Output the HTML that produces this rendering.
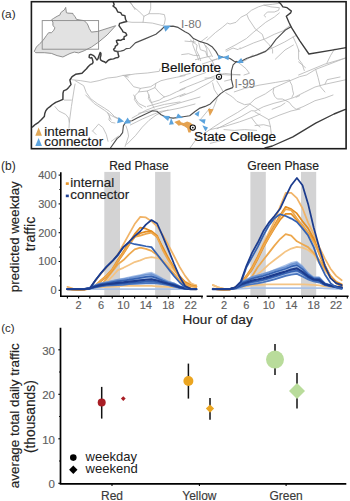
<!DOCTYPE html>
<html><head><meta charset="utf-8"><style>
html,body{margin:0;padding:0;background:#fff;width:350px;height:501px;overflow:hidden}
svg{display:block}
text{font-family:"Liberation Sans", sans-serif}
</style></head><body>
<svg width="350" height="501" viewBox="0 0 350 501">
<text x="1.2" y="17.6" font-size="11.8" fill="#2a2a2a" stroke="none">(a)</text>
<clipPath id="mc"><rect x="31.4" y="1.7" width="314.7" height="147"/></clipPath>
<g clip-path="url(#mc)">
<path d="M130.1,2.6 L133.6,6.9 L138.7,11.1 L143.9,16.3 L143.0,22.3" fill="none" stroke="#B4B4B4" stroke-width="0.80" stroke-linejoin="round" stroke-linecap="round" />
<path d="M150.7,1.7 L150.7,8.6 L149.0,13.7 L143.9,16.3" fill="none" stroke="#B4B4B4" stroke-width="0.80" stroke-linejoin="round" stroke-linecap="round" />
<path d="M149.0,13.7 L159.3,13.7 L164.4,14.6 L165.3,18.9 L164.4,24.0 L162.7,25.7" fill="none" stroke="#B4B4B4" stroke-width="0.80" stroke-linejoin="round" stroke-linecap="round" />
<path d="M121.0,23.2 L125.0,21.4 L131.9,22.3 L143.0,22.3 L152.4,23.1 L162.7,25.7" fill="none" stroke="#B4B4B4" stroke-width="0.80" stroke-linejoin="round" stroke-linecap="round" />
<path d="M128.0,0.0 L131.0,3.0 L135.0,9.6" fill="none" stroke="#B4B4B4" stroke-width="0.80" stroke-linejoin="round" stroke-linecap="round" />
<path d="M190.3,40.0 L197.1,45.1 L196.3,50.3 L198.9,55.4 L200.6,60.6" fill="none" stroke="#B4B4B4" stroke-width="0.80" stroke-linejoin="round" stroke-linecap="round" />
<path d="M181.7,54.6 L188.6,53.7 L193.7,55.4 L198.9,55.4" fill="none" stroke="#B4B4B4" stroke-width="0.80" stroke-linejoin="round" stroke-linecap="round" />
<path d="M204.0,43.4 L206.6,48.6 L207.4,55.4 L211.7,60.6 L216.9,58.9" fill="none" stroke="#B4B4B4" stroke-width="0.80" stroke-linejoin="round" stroke-linecap="round" />
<path d="M206.9,40.3 L215.4,32.6 L222.3,27.4 L227.4,23.1 L230.0,24.0 L236.0,22.3 L241.1,17.1 L246.3,14.6 L251.4,10.3 L258.3,6.9 L264.0,5.1 L272.6,4.3 L278.6,3.4" fill="none" stroke="#B4B4B4" stroke-width="0.80" stroke-linejoin="round" stroke-linecap="round" />
<path d="M207.3,36.9 L203.9,39.4 L200.4,42.0" fill="none" stroke="#B4B4B4" stroke-width="0.80" stroke-linejoin="round" stroke-linecap="round" />
<path d="M190.1,34.3 L193.6,39.4 L192.7,44.6 L195.3,51.4 L198.7,60.0" fill="none" stroke="#B4B4B4" stroke-width="0.80" stroke-linejoin="round" stroke-linecap="round" />
<path d="M185.0,41.1 L195.3,42.0" fill="none" stroke="#B4B4B4" stroke-width="0.80" stroke-linejoin="round" stroke-linecap="round" />
<path d="M198.7,42.9 L200.4,49.7 L205.6,51.4 L207.3,56.6" fill="none" stroke="#B4B4B4" stroke-width="0.80" stroke-linejoin="round" stroke-linecap="round" />
<path d="M205.6,45.4 L209.0,49.7 L212.4,56.6" fill="none" stroke="#B4B4B4" stroke-width="0.80" stroke-linejoin="round" stroke-linecap="round" />
<path d="M226.1,51.4 L233.0,48.0 L238.1,49.7 L240.0,47.7" fill="none" stroke="#B4B4B4" stroke-width="0.80" stroke-linejoin="round" stroke-linecap="round" />
<path d="M264.0,5.1 L270.9,6.9 L279.4,7.7 L278.6,10.3 L274.3,12.0 L267.4,12.0 L264.0,15.4 L265.7,17.0" fill="none" stroke="#B4B4B4" stroke-width="0.80" stroke-linejoin="round" stroke-linecap="round" />
<path d="M246.9,14.6 L248.6,18.9 L252.0,24.0 L255.4,29.1 L262.3,34.3 L264.0,39.4 L269.1,44.6 L272.6,49.7 L272.6,53.1" fill="none" stroke="#B4B4B4" stroke-width="0.80" stroke-linejoin="round" stroke-linecap="round" />
<path d="M225.7,50.0 L236.0,44.6 L246.3,38.6 L253.1,32.6 L258.3,28.3 L265.7,22.3 L274.3,17.1 L279.4,12.9" fill="none" stroke="#B4B4B4" stroke-width="0.80" stroke-linejoin="round" stroke-linecap="round" />
<path d="M240.0,48.9 L253.7,42.9 L265.7,38.6 L274.3,34.3 L282.9,30.9 L289.7,25.7" fill="none" stroke="#B4B4B4" stroke-width="0.80" stroke-linejoin="round" stroke-linecap="round" />
<path d="M248.6,58.3 L262.3,52.3 L274.3,47.1 L284.6,42.0 L294.9,36.0 L296.5,35.5" fill="none" stroke="#B4B4B4" stroke-width="0.80" stroke-linejoin="round" stroke-linecap="round" />
<path d="M293.1,36.9 L296.6,44.6 L299.1,51.4" fill="none" stroke="#B4B4B4" stroke-width="0.80" stroke-linejoin="round" stroke-linecap="round" />
<path d="M202.3,64.0 L217.7,58.9" fill="none" stroke="#B4B4B4" stroke-width="0.80" stroke-linejoin="round" stroke-linecap="round" />
<path d="M195.4,59.7 L211.0,56.0" fill="none" stroke="#B4B4B4" stroke-width="0.80" stroke-linejoin="round" stroke-linecap="round" />
<path d="M298.6,50.0 L298.6,59.1 L302.0,63.7 L304.3,70.6" fill="none" stroke="#B4B4B4" stroke-width="0.80" stroke-linejoin="round" stroke-linecap="round" />
<path d="M275.4,59.1 L285.0,50.0 L293.4,45.0" fill="none" stroke="#B4B4B4" stroke-width="0.80" stroke-linejoin="round" stroke-linecap="round" />
<path d="M298.6,75.0 L324.3,64.3 L346.0,57.9" fill="none" stroke="#B4B4B4" stroke-width="0.80" stroke-linejoin="round" stroke-linecap="round" />
<path d="M326.9,63.0 L330.7,55.3 L334.6,48.9" fill="none" stroke="#B4B4B4" stroke-width="0.80" stroke-linejoin="round" stroke-linecap="round" />
<path d="M239.1,63.0 L246.0,68.7 L249.4,73.3 L244.0,75.0" fill="none" stroke="#B4B4B4" stroke-width="0.80" stroke-linejoin="round" stroke-linecap="round" />
<path d="M252.9,55.0 L246.0,60.0 L239.1,63.0" fill="none" stroke="#B4B4B4" stroke-width="0.80" stroke-linejoin="round" stroke-linecap="round" />
<path d="M180.0,76.0 L190.3,73.4" fill="none" stroke="#B4B4B4" stroke-width="0.80" stroke-linejoin="round" stroke-linecap="round" />
<path d="M180.0,82.9 L193.7,76.9 L205.7,72.6" fill="none" stroke="#B4B4B4" stroke-width="0.80" stroke-linejoin="round" stroke-linecap="round" />
<path d="M180.0,89.7 L197.1,82.9 L214.3,76.0 L224.6,73.4 L240.0,75.1" fill="none" stroke="#B4B4B4" stroke-width="0.80" stroke-linejoin="round" stroke-linecap="round" />
<path d="M180.0,96.6 L193.7,91.4 L209.1,82.9 L214.3,79.4" fill="none" stroke="#B4B4B4" stroke-width="0.80" stroke-linejoin="round" stroke-linecap="round" />
<path d="M212.6,82.9 L214.3,89.7 L217.7,94.9" fill="none" stroke="#B4B4B4" stroke-width="0.80" stroke-linejoin="round" stroke-linecap="round" />
<path d="M216.9,81.1 L221.1,88.0 L222.9,91.4" fill="none" stroke="#B4B4B4" stroke-width="0.80" stroke-linejoin="round" stroke-linecap="round" />
<path d="M224.6,81.1 L231.4,79.4" fill="none" stroke="#B4B4B4" stroke-width="0.80" stroke-linejoin="round" stroke-linecap="round" />
<path d="M125.0,75.6 L135.3,73.9 L147.3,73.0 L159.3,71.3 L160.1,68.7" fill="none" stroke="#B4B4B4" stroke-width="0.80" stroke-linejoin="round" stroke-linecap="round" />
<path d="M125.0,76.4 L130.1,82.4 L133.6,86.7 L140.4,88.4 L150.7,86.7 L155.9,83.3 L161.0,80.7 L167.9,79.0 L176.4,77.3 L185.0,75.6" fill="none" stroke="#B4B4B4" stroke-width="0.80" stroke-linejoin="round" stroke-linecap="round" />
<path d="M140.4,88.4 L138.7,91.9 L135.3,95.3 L134.4,99.6 L138.7,105.6 L142.1,108.1" fill="none" stroke="#B4B4B4" stroke-width="0.80" stroke-linejoin="round" stroke-linecap="round" />
<path d="M138.7,91.9 L147.3,91.0 L149.9,98.7 L152.4,104.7 L154.1,108.1" fill="none" stroke="#B4B4B4" stroke-width="0.80" stroke-linejoin="round" stroke-linecap="round" />
<path d="M147.3,91.0 L155.0,87.6 L155.9,83.3" fill="none" stroke="#B4B4B4" stroke-width="0.80" stroke-linejoin="round" stroke-linecap="round" />
<path d="M155.0,87.6 L159.3,92.7 L164.4,97.0 L169.6,95.3 L176.4,91.9 L185.0,88.4" fill="none" stroke="#B4B4B4" stroke-width="0.80" stroke-linejoin="round" stroke-linecap="round" />
<path d="M147.3,106.4 L159.3,103.0 L167.9,100.4 L176.4,97.0 L185.0,93.6" fill="none" stroke="#B4B4B4" stroke-width="0.80" stroke-linejoin="round" stroke-linecap="round" />
<path d="M138.7,113.3 L154.1,109.9 L167.9,106.4 L185.0,101.3 L200.0,97.0" fill="none" stroke="#B4B4B4" stroke-width="0.80" stroke-linejoin="round" stroke-linecap="round" />
<path d="M133.7,95.0 L136.3,100.1 L138.9,103.6 L145.7,107.0" fill="none" stroke="#B4B4B4" stroke-width="0.80" stroke-linejoin="round" stroke-linecap="round" />
<path d="M149.1,95.0 L148.3,98.4 L150.9,102.7 L159.4,100.1 L164.6,96.7" fill="none" stroke="#B4B4B4" stroke-width="0.80" stroke-linejoin="round" stroke-linecap="round" />
<path d="M132.0,118.1 L145.7,110.4 L154.3,107.0 L164.6,104.4 L180.0,101.9" fill="none" stroke="#B4B4B4" stroke-width="0.80" stroke-linejoin="round" stroke-linecap="round" />
<path d="M130.3,125.0 L142.3,119.0 L154.3,113.9 L161.1,111.3 L168.0,110.4 L180.0,108.0 L195.0,104.0" fill="none" stroke="#B4B4B4" stroke-width="0.80" stroke-linejoin="round" stroke-linecap="round" />
<path d="M126.9,144.3 L135.4,135.7 L142.3,127.1 L149.1,120.3 L156.0,115.1 L162.9,111.7 L168.0,110.0" fill="none" stroke="#B4B4B4" stroke-width="0.80" stroke-linejoin="round" stroke-linecap="round" />
<path d="M126.0,125.9 L127.7,131.0 L128.6,136.1 L125.1,146.4" fill="none" stroke="#B4B4B4" stroke-width="0.80" stroke-linejoin="round" stroke-linecap="round" />
<path d="M200.0,135.0 L195.0,141.0 L190.0,148.0" fill="none" stroke="#B4B4B4" stroke-width="0.80" stroke-linejoin="round" stroke-linecap="round" />
<path d="M71.7,79.7 L80.3,80.6 L90.6,82.3 L99.1,80.6 L107.7,78.0 L116.3,77.1 L123.1,75.4 L130.0,74.6" fill="none" stroke="#B4B4B4" stroke-width="0.80" stroke-linejoin="round" stroke-linecap="round" />
<path d="M123.1,75.4 L128.3,77.1" fill="none" stroke="#B4B4B4" stroke-width="0.80" stroke-linejoin="round" stroke-linecap="round" />
<path d="M75.1,80.6 L83.7,85.7 L86.3,92.6 L90.6,98.6 L97.4,103.7 L104.3,108.0 L109.4,111.4 L114.6,116.6 L119.7,119.1" fill="none" stroke="#B4B4B4" stroke-width="0.80" stroke-linejoin="round" stroke-linecap="round" />
<path d="M75.1,84.0 L74.3,88.0 L71.4,106.6 L69.3,122.3 L69.0,128.0" fill="none" stroke="#B4B4B4" stroke-width="0.80" stroke-linejoin="round" stroke-linecap="round" />
<path d="M55.0,106.6 L58.6,110.9 L65.7,114.4 L68.6,118.0 L69.3,122.3" fill="none" stroke="#B4B4B4" stroke-width="0.80" stroke-linejoin="round" stroke-linecap="round" />
<path d="M64.3,100.1 L71.4,100.1" fill="none" stroke="#B4B4B4" stroke-width="0.80" stroke-linejoin="round" stroke-linecap="round" />
<path d="M85.7,95.0 L94.3,103.6 L104.6,110.4 L111.4,115.6 L118.3,119.0" fill="none" stroke="#B4B4B4" stroke-width="0.80" stroke-linejoin="round" stroke-linecap="round" />
<path d="M92.6,131.0 L98.6,124.1 L102.9,127.6 L106.3,134.4 L108.0,141.3" fill="none" stroke="#B4B4B4" stroke-width="0.80" stroke-linejoin="round" stroke-linecap="round" />
<path d="M92.6,131.0 L96.0,134.4" fill="none" stroke="#B4B4B4" stroke-width="0.80" stroke-linejoin="round" stroke-linecap="round" />
<path d="M109.7,115.6 L108.9,119.9 L111.4,122.4 L115.0,123.0" fill="none" stroke="#B4B4B4" stroke-width="0.80" stroke-linejoin="round" stroke-linecap="round" />
<path d="M111.4,141.3 L118.3,136.1" fill="none" stroke="#B4B4B4" stroke-width="0.80" stroke-linejoin="round" stroke-linecap="round" />
<path d="M107.7,113.1 L111.1,120.0" fill="none" stroke="#B4B4B4" stroke-width="0.80" stroke-linejoin="round" stroke-linecap="round" />
<path d="M217.1,98.7 L213.7,107.3 L210.3,114.1" fill="none" stroke="#B4B4B4" stroke-width="0.80" stroke-linejoin="round" stroke-linecap="round" />
<path d="M225.7,92.7 L232.6,97.0 L236.9,101.3 L244.6,104.7 L249.7,103.9 L254.9,107.3 L260.0,110.7" fill="none" stroke="#B4B4B4" stroke-width="0.80" stroke-linejoin="round" stroke-linecap="round" />
<path d="M205.0,133.0 L213.7,127.0 L225.7,119.3 L237.7,112.4 L248.0,105.6 L255.0,99.0 L265.3,93.9 L273.9,87.9 L289.3,81.0 L299.6,76.7 L306.4,75.0 L315.7,69.4 L345.4,58.0" fill="none" stroke="#B4B4B4" stroke-width="0.80" stroke-linejoin="round" stroke-linecap="round" />
<path d="M217.1,128.7 L229.1,122.7 L241.1,116.7 L251.4,110.7 L255.0,111.0 L263.6,106.7 L273.9,103.3 L284.1,100.7 L294.4,97.3 L304.7,92.1 L315.0,87.0 L324.9,84.3 L346.0,79.7" fill="none" stroke="#B4B4B4" stroke-width="0.80" stroke-linejoin="round" stroke-linecap="round" />
<path d="M210.3,129.6 L225.7,126.1 L239.4,121.9 L251.4,117.6 L260.0,114.1" fill="none" stroke="#B4B4B4" stroke-width="0.80" stroke-linejoin="round" stroke-linecap="round" />
<path d="M224.0,129.6 L234.3,130.4 L244.6,129.6 L256.6,130.4" fill="none" stroke="#B4B4B4" stroke-width="0.80" stroke-linejoin="round" stroke-linecap="round" />
<path d="M251.4,117.6 L256.6,124.4 L260.0,127.0" fill="none" stroke="#B4B4B4" stroke-width="0.80" stroke-linejoin="round" stroke-linecap="round" />
<path d="M234.3,91.9 L244.6,88.4 L260.0,85.0 L275.7,82.4 L289.3,80.1" fill="none" stroke="#B4B4B4" stroke-width="0.80" stroke-linejoin="round" stroke-linecap="round" />
<path d="M210.3,143.3 L220.0,141.0" fill="none" stroke="#B4B4B4" stroke-width="0.80" stroke-linejoin="round" stroke-linecap="round" />
<path d="M273.9,87.9 L273.0,92.1 L274.7,96.4 L277.3,99.0 L282.4,99.0 L285.9,100.7 L289.3,102.4 L291.9,105.9 L296.1,109.3 L303.0,106.7 L309.9,103.3 L315.0,100.7 L324.9,98.0 L333.0,95.0" fill="none" stroke="#B4B4B4" stroke-width="0.80" stroke-linejoin="round" stroke-linecap="round" />
<path d="M289.3,80.1 L291.9,85.3 L292.7,90.4 L293.6,93.9 L291.9,97.3" fill="none" stroke="#B4B4B4" stroke-width="0.80" stroke-linejoin="round" stroke-linecap="round" />
<path d="M296.1,97.3 L299.6,95.6" fill="none" stroke="#B4B4B4" stroke-width="0.80" stroke-linejoin="round" stroke-linecap="round" />
<path d="M272.1,109.3 L280.7,105.9 L285.0,103.0" fill="none" stroke="#B4B4B4" stroke-width="0.80" stroke-linejoin="round" stroke-linecap="round" />
<path d="M255.0,111.9 L268.7,119.6 L270.4,126.4 L271.3,134.1" fill="none" stroke="#B4B4B4" stroke-width="0.80" stroke-linejoin="round" stroke-linecap="round" />
<path d="M268.7,119.6 L279.0,115.3 L291.0,111.0 L300.0,109.0" fill="none" stroke="#B4B4B4" stroke-width="0.80" stroke-linejoin="round" stroke-linecap="round" />
<path d="M255.0,125.6 L263.6,124.7 L270.4,126.4" fill="none" stroke="#B4B4B4" stroke-width="0.80" stroke-linejoin="round" stroke-linecap="round" />
<path d="M315.7,69.4 L318.0,77.4 L320.3,86.6 L324.9,92.0" fill="none" stroke="#B4B4B4" stroke-width="0.80" stroke-linejoin="round" stroke-linecap="round" />
<path d="M324.9,84.3 L327.1,79.7 L340.0,77.0" fill="none" stroke="#B4B4B4" stroke-width="0.80" stroke-linejoin="round" stroke-linecap="round" />
<path d="M298.6,61.9 L305.4,67.6" fill="none" stroke="#B4B4B4" stroke-width="0.80" stroke-linejoin="round" stroke-linecap="round" />
<path d="M212.0,60.0 L216.0,70.0 L222.0,74.5" fill="none" stroke="#B4B4B4" stroke-width="0.80" stroke-linejoin="round" stroke-linecap="round" />
<path d="M222.0,74.5 L229.0,75.0 L240.0,74.5" fill="none" stroke="#B4B4B4" stroke-width="0.80" stroke-linejoin="round" stroke-linecap="round" />
<path d="M205.0,78.0 L215.0,78.0" fill="none" stroke="#B4B4B4" stroke-width="0.80" stroke-linejoin="round" stroke-linecap="round" />
<path d="M236.0,140.0 L245.0,137.0 L255.0,136.0" fill="none" stroke="#B4B4B4" stroke-width="0.80" stroke-linejoin="round" stroke-linecap="round" />
<path d="M200.0,120.0 L205.0,114.0 L210.0,108.0" fill="none" stroke="#B4B4B4" stroke-width="0.80" stroke-linejoin="round" stroke-linecap="round" />
<path d="M65.7,7.4 L66.4,12.7 L67.9,13.1 L72.9,13.4 L72.9,14.3 L75.0,16.4 L76.4,19.3 L80.0,20.0 L84.3,20.7 L87.1,23.6 L87.9,25.0 L89.3,28.6 L91.4,32.1 L97.9,31.4 L115.7,25.7 L107.1,35.0 L98.6,42.1 L91.4,47.1 L84.3,50.7 L78.6,52.9 L74.3,52.1 L70.0,53.5 L67.1,54.9 L62.9,57.0 L57.1,55.6 L51.4,53.4 L44.3,52.7 L35.7,52.7 L34.3,51.3 L36.4,47.0 L40.0,43.4 L42.9,40.6 L46.4,35.6 L48.6,32.7 L51.4,32.7 L53.6,30.6 L55.0,27.7 L52.9,25.6 L52.9,22.0 L51.4,19.9 L53.6,18.4 L57.1,16.3 L60.0,14.9 L60.7,12.7 L64.3,9.9Z" fill="#E2E2E2" stroke="#7E7E7E" stroke-width="0.85" stroke-linejoin="round"/>
<rect x="42.2" y="20.6" width="56.4" height="28.6" fill="none" stroke="#8A8A8A" stroke-width="0.9"/>
<path d="M113.0,1.2 L114.2,4.8 L113.0,6.0 L116.0,8.4 L117.8,12.0 L120.7,12.6 L122.0,15.0 L124.9,15.6 L125.5,19.2 L126.7,21.6 L123.7,22.2 L119.6,23.4 L119.0,25.7 L120.7,28.1 L122.5,30.7 L122.9,31.8 L125.7,32.9 L126.8,35.0 L125.7,36.1 L124.3,36.4 L123.9,38.2 L124.3,39.3 L122.5,39.3 L120.7,40.4 L118.2,40.0 L116.4,40.7 L116.8,42.5 L117.9,43.9 L116.8,45.4 L115.4,46.1 L115.0,47.9 L113.6,49.3 L114.3,50.7 L116.4,51.4 L117.9,52.1 L118.2,54.3 L118.9,56.4 L117.9,57.5 L115.7,57.9 L113.6,58.9 L110.7,59.3 L108.6,60.0 L107.1,61.4 L105.8,62.8 L104.3,61.7 L102.1,61.0 L100.6,59.9 L100.2,58.0 L100.9,55.4 L100.9,53.2 L100.2,52.4 L99.5,54.3 L98.7,56.5 L98.0,58.7 L96.9,59.9 L95.7,58.4 L94.6,56.5 L93.1,55.4 L90.9,54.3 L89.4,55.0 L89.1,57.3 L90.2,58.0 L91.7,57.6 L92.4,59.1 L93.1,62.1 L92.4,63.6 L90.2,64.7 L88.3,66.5 L86.5,68.8 L84.2,71.0 L82.0,73.2 L79.0,73.7 L75.6,74.3 L72.1,76.6 L69.9,80.0 L71.0,84.6 L68.7,87.4 L66.4,89.7 L63.6,90.9 L63.0,93.1 L62.9,99.4 L59.5,100.8 L55.7,102.3 L52.5,104.5 L50.0,106.6 L47.5,108.5 L45.7,110.9 L44.8,113.5 L44.3,116.6 L41.5,119.5 L38.6,122.3 L35.5,124.3 L32.9,126.6 L31.2,127.5" fill="none" stroke="#3C3C3C" stroke-width="1.45" stroke-linejoin="round" stroke-linecap="round" />
<path d="M278.6,1.7 L281.1,4.3 L282.9,6.9 L287.1,7.7 L291.4,11.1 L290.6,12.9 L286.3,16.3 L288.9,22.3 L291.4,27.4 L300.0,41.1 L308.9,54.0 L332.0,50.1 L346.1,47.6" fill="none" stroke="#3C3C3C" stroke-width="1.35" stroke-linejoin="round" stroke-linecap="round" />
<path d="M265.0,148.0 L272.3,146.0 L292.9,136.9 L315.7,123.1 L334.0,114.0 L345.4,109.4" fill="none" stroke="#3C3C3C" stroke-width="1.35" stroke-linejoin="round" stroke-linecap="round" />
<path d="M116.4,51.4 L120.7,51.1 L123.6,50.4 L126.4,48.6 L130.0,48.2 L131.9,46.3 L135.3,42.9 L145.6,38.6 L155.9,34.3 L161.0,30.0 L164.4,26.6 L173.0,26.1 L178.1,27.4 L185.0,31.7 L188.4,33.4 L193.6,38.6 L198.7,41.1 L207.3,43.7 L212.4,47.1 L215.9,51.4 L218.4,55.7 L222.7,57.1 L229.6,58.3 L234.1,61.2 L238.7,62.5 L246.9,58.3 L257.1,54.9 L265.7,51.4 L270.9,46.3 L276.0,39.4 L281.1,34.3 L285.4,30.0 L289.7,27.4 L291.0,27.0" fill="none" stroke="#505050" stroke-width="1.15" stroke-linejoin="round" stroke-linecap="round" />
<path d="M238.0,62.3 L236.6,61.4 L233.1,64.9 L231.4,70.9 L231.4,79.4 L233.1,86.3 L232.6,87.6 L225.7,90.1 L220.6,93.6 L216.3,97.9 L210.3,103.9 L205.1,106.4 L200.0,108.1 L195.0,111.5 L189.7,115.7 L180.0,117.3 L173.1,118.1 L166.3,117.3 L161.1,114.7 L156.9,111.3 L152.6,110.8 L144.0,114.7 L137.1,118.1 L132.0,120.7 L126.0,121.6 L123.4,125.9 L122.6,132.7 L120.0,136.1 L117.0,138.6 L110.1,148.5" fill="none" stroke="#505050" stroke-width="1.15" stroke-linejoin="round" stroke-linecap="round" />
<path d="M163.2,25.4 L170.9,25.8 L165.4,31.8Z" fill="#5BA3DD"/>
<path d="M217.8,55.1 L218.3,59.7 L224.1,57.3Z" fill="#5BA3DD"/>
<path d="M229.0,54.9 L228.5,60.2 L222.7,57.3Z" fill="#5BA3DD"/>
<path d="M241.2,58.1 L236.3,63.1 L243.6,63.1Z" fill="#5BA3DD"/>
<path d="M118.6,117.1 L117.1,123.3 L124.1,121.6Z" fill="#5BA3DD"/>
<path d="M127.6,117.5 L123.7,123.7 L131.0,123.3Z" fill="#5BA3DD"/>
<path d="M162.1,115.7 L169.9,116.1 L168.1,120.9Z" fill="#5BA3DD"/>
<path d="M171.1,117.9 L169.0,124.7 L173.9,124.3Z" fill="#5BA3DD"/>
<path d="M178.0,113.4 L175.7,118.3 L183.1,117.9Z" fill="#5BA3DD"/>
<path d="M194.3,114.0 L199.5,110.7 L198.5,116.8Z" fill="#5BA3DD"/>
<path d="M198.5,119.6 L205.6,119.2 L204.6,123.9Z" fill="#5BA3DD"/>
<path d="M202.3,125.3 L208.0,127.5 L205.5,131.5Z" fill="#5BA3DD"/>
<path d="M207.9,108.8 L213.6,109.2 L209.8,116.3Z" fill="#E4A250"/>
<path d="M174.3,121.9 L179.4,120.1 L181.1,122.3 L183.7,123.1 L187.1,121.4 L190.6,122.7 L193.1,124.9 L191.4,129.1 L190.6,132.6 L188.4,132.6 L187.1,128.3 L184.6,126.6 L181.1,124.9 L178.6,125.7 L176.9,124.0Z" fill="#E4A250"/>
<circle cx="219.0" cy="76.8" r="2.6" fill="#fff" stroke="#111" stroke-width="1.1"/>
<circle cx="219.0" cy="76.8" r="0.9" fill="#111"/>
<circle cx="192.8" cy="127.6" r="2.6" fill="#fff" stroke="#111" stroke-width="1.1"/>
<circle cx="192.8" cy="127.6" r="0.9" fill="#111"/>
<path d="M38.6,127.6 L42,135.7 L35.3,135.7Z" fill="#E1A857"/>
<path d="M38.6,137.9 L42,146 L35.3,146Z" fill="#5DA5E0"/>
<text x="44.3" y="135.5" font-size="13.4" fill="#1a1a1a" stroke="#1a1a1a" stroke-width="0.15">internal</text>
<text x="44.3" y="146" font-size="13.4" fill="#1a1a1a" stroke="#1a1a1a" stroke-width="0.15">connector</text>
<text x="161" y="72.4" font-size="13.5" fill="#111" stroke="#111" stroke-width="0.15">Bellefonte</text>
<text x="194" y="140.6" font-size="13.7" fill="#111" stroke="#111" stroke-width="0.15">State College</text>
<text x="181" y="27.7" font-size="11.8" fill="#777" stroke="none">I-80</text>
<text x="234.6" y="88.3" font-size="12" fill="#777" stroke="none">I-99</text>
</g>
<rect x="31.4" y="1.7" width="314.7" height="147" fill="none" stroke="#1c1c1c" stroke-width="1.6"/>
<rect x="104.3" y="171.9" width="15.7" height="123.6" fill="#D3D3D4"/>
<rect x="155.1" y="171.9" width="15.4" height="123.6" fill="#D3D3D4"/>
<rect x="250.4" y="171.9" width="15.4" height="123.6" fill="#D3D3D4"/>
<rect x="301.0" y="171.9" width="15.2" height="123.6" fill="#D3D3D4"/>
<path d="M67.40,286.84 L73.01,288.57 L78.61,289.44 L84.22,289.44 L89.82,288.00 L95.43,280.80 L101.03,273.60 L106.64,267.26 L112.24,261.50 L117.85,254.30 L123.45,244.22 L129.06,234.14 L134.66,224.06 L140.27,216.86 L145.87,217.44 L151.48,221.18 L157.08,226.36 L162.69,235.00 L168.29,244.80 L173.90,255.74 L179.50,266.68 L185.11,275.90 L190.71,283.10 L196.32,286.27" fill="none" stroke="#F1B468" stroke-width="1.75" stroke-opacity="1.00" stroke-linejoin="round" stroke-linecap="round"/>
<path d="M67.40,289.15 L73.01,289.44 L78.61,289.72 L84.22,289.44 L89.82,289.15 L95.43,288.00 L101.03,285.98 L106.64,282.24 L112.24,276.48 L117.85,270.14 L123.45,267.84 L129.06,264.96 L134.66,262.08 L140.27,260.35 L145.87,258.04 L151.48,257.18 L157.08,258.04 L162.69,260.06 L168.29,264.38 L173.90,270.14 L179.50,276.48 L185.11,281.66 L190.71,283.96 L196.32,285.12" fill="none" stroke="#F4C484" stroke-width="1.75" stroke-opacity="1.00" stroke-linejoin="round" stroke-linecap="round"/>
<path d="M67.40,289.44 L73.01,289.44 L78.61,289.44 L84.22,289.44 L89.82,288.86 L95.43,288.00 L101.03,287.42 L106.64,286.84 L112.24,286.56 L117.85,286.27 L123.45,285.98 L129.06,285.98 L134.66,285.98 L140.27,285.98 L145.87,285.98 L151.48,285.98 L157.08,286.27 L162.69,286.56 L168.29,286.84 L173.90,287.42 L179.50,288.00 L185.11,288.57 L190.71,289.15 L196.32,289.44" fill="none" stroke="#F4C484" stroke-width="1.75" stroke-opacity="1.00" stroke-linejoin="round" stroke-linecap="round"/>
<path d="M67.40,289.15 L73.01,289.44 L78.61,289.72 L84.22,289.44 L89.82,288.86 L95.43,287.42 L101.03,284.54 L106.64,278.78 L112.24,271.58 L117.85,264.38 L123.45,260.06 L129.06,254.30 L134.66,249.40 L140.27,247.68 L145.87,248.83 L151.48,250.84 L157.08,255.16 L162.69,261.50 L168.29,267.26 L173.90,273.31 L179.50,280.22 L185.11,285.12 L190.71,288.00 L196.32,288.86" fill="none" stroke="#EDA84E" stroke-width="1.75" stroke-opacity="1.00" stroke-linejoin="round" stroke-linecap="round"/>
<path d="M67.40,288.86 L73.01,289.44 L78.61,289.72 L84.22,289.44 L89.82,288.57 L95.43,285.69 L101.03,280.22 L106.64,275.32 L112.24,269.28 L117.85,260.06 L123.45,251.42 L129.06,242.78 L134.66,234.14 L140.27,227.52 L145.87,228.67 L151.48,231.26 L157.08,237.02 L162.69,247.10 L168.29,258.04 L173.90,267.26 L179.50,275.90 L185.11,282.24 L190.71,285.12 L196.32,286.27" fill="none" stroke="#E38C20" stroke-width="1.75" stroke-opacity="1.00" stroke-linejoin="round" stroke-linecap="round"/>
<path d="M67.40,289.15 L73.01,289.44 L78.61,289.72 L84.22,289.44 L89.82,288.86 L95.43,286.27 L101.03,281.08 L106.64,276.48 L112.24,270.14 L117.85,261.50 L123.45,253.44 L129.06,244.80 L134.66,237.02 L140.27,233.28 L145.87,231.55 L151.48,231.26 L157.08,235.58 L162.69,248.54 L168.29,258.62 L173.90,267.84 L179.50,276.48 L185.11,283.10 L190.71,285.98 L196.32,286.84" fill="none" stroke="#E38C20" stroke-width="1.75" stroke-opacity="1.00" stroke-linejoin="round" stroke-linecap="round"/>
<path d="M67.40,288.86 L73.01,289.44 L78.61,289.72 L84.22,289.44 L89.82,288.57 L95.43,285.98 L101.03,280.51 L106.64,275.90 L112.24,269.56 L117.85,260.92 L123.45,252.86 L129.06,244.22 L134.66,237.02 L140.27,235.58 L145.87,233.85 L151.48,232.70 L157.08,237.02 L162.69,249.98 L168.29,260.06 L173.90,268.70 L179.50,277.34 L185.11,283.39 L190.71,285.98 L196.32,286.84" fill="none" stroke="#EDA84E" stroke-width="1.75" stroke-opacity="1.00" stroke-linejoin="round" stroke-linecap="round"/>
<path d="M67.40,289.15 L73.01,289.15 L78.61,289.15 L84.22,289.15 L89.82,287.42 L95.43,284.54 L101.03,282.52 L106.64,281.37 L112.24,279.93 L117.85,278.78 L123.45,277.63 L129.06,276.48 L134.66,275.32 L140.27,274.17 L145.87,272.73 L151.48,271.87 L157.08,274.46 L162.69,277.63 L168.29,280.51 L173.90,282.52 L179.50,285.40 L185.11,287.42 L190.71,288.86 L196.32,289.15 L196.32,289.44 L190.71,289.44 L185.11,289.15 L179.50,288.28 L173.90,286.84 L168.29,285.40 L162.69,284.54 L157.08,283.68 L151.48,283.39 L145.87,283.68 L140.27,283.96 L134.66,284.25 L129.06,284.54 L123.45,285.12 L117.85,285.40 L112.24,285.69 L106.64,285.98 L101.03,286.56 L95.43,287.71 L89.82,288.86 L84.22,289.44 L78.61,289.44 L73.01,289.44 L67.40,289.44Z" fill="#8EADE0" fill-opacity="0.75" stroke="none"/>
<path d="M67.40,289.15 L73.01,289.15 L78.61,289.15 L84.22,289.15 L89.82,289.15 L95.43,289.15 L101.03,289.15 L106.64,289.15 L112.24,289.15 L117.85,289.15 L123.45,289.15 L129.06,289.15 L134.66,289.15 L140.27,289.15 L145.87,289.15 L151.48,289.15 L157.08,289.15 L162.69,289.15 L168.29,289.15 L173.90,289.15 L179.50,289.15 L185.11,289.15 L190.71,289.15 L196.32,289.15" fill="none" stroke="#A9C1E6" stroke-width="1.75" stroke-opacity="1.00" stroke-linejoin="round" stroke-linecap="round"/>
<path d="M67.40,289.15 L73.01,289.15 L78.61,289.15 L84.22,289.15 L89.82,287.71 L95.43,285.12 L101.03,283.39 L106.64,282.24 L112.24,281.08 L117.85,279.93 L123.45,279.07 L129.06,278.20 L134.66,277.05 L140.27,275.90 L145.87,274.75 L151.48,274.17 L157.08,276.48 L162.69,279.36 L168.29,281.95 L173.90,283.39 L179.50,285.98 L185.11,288.00 L190.71,288.86 L196.32,289.15" fill="none" stroke="#6F95D2" stroke-width="1.75" stroke-opacity="1.00" stroke-linejoin="round" stroke-linecap="round"/>
<path d="M67.40,289.15 L73.01,289.15 L78.61,289.15 L84.22,289.15 L89.82,288.57 L95.43,287.42 L101.03,286.27 L106.64,285.69 L112.24,285.40 L117.85,285.12 L123.45,284.83 L129.06,284.25 L134.66,283.96 L140.27,283.68 L145.87,283.39 L151.48,283.10 L157.08,283.39 L162.69,284.25 L168.29,285.12 L173.90,286.56 L179.50,288.00 L185.11,288.86 L190.71,289.15 L196.32,289.15" fill="none" stroke="#4A76C0" stroke-width="1.75" stroke-opacity="1.00" stroke-linejoin="round" stroke-linecap="round"/>
<path d="M67.40,289.15 L73.01,289.15 L78.61,289.15 L84.22,289.15 L89.82,288.40 L95.43,286.96 L101.03,285.69 L106.64,285.00 L112.24,284.54 L117.85,284.08 L123.45,283.68 L129.06,283.04 L134.66,282.58 L140.27,282.12 L145.87,281.66 L151.48,281.31 L157.08,282.01 L162.69,283.27 L168.29,284.48 L173.90,285.92 L179.50,287.59 L185.11,288.69 L190.71,289.09 L196.32,289.15" fill="none" stroke="#3562B2" stroke-width="1.75" stroke-opacity="1.00" stroke-linejoin="round" stroke-linecap="round"/>
<path d="M67.40,289.15 L73.01,289.15 L78.61,289.15 L84.22,289.15 L89.82,287.92 L95.43,285.69 L101.03,284.11 L106.64,283.10 L112.24,282.16 L117.85,281.23 L123.45,280.51 L129.06,279.72 L134.66,278.78 L140.27,277.84 L145.87,276.91 L151.48,276.40 L157.08,278.20 L162.69,280.58 L168.29,282.74 L173.90,284.18 L179.50,286.48 L185.11,288.21 L190.71,288.93 L196.32,289.15" fill="none" stroke="#3562B2" stroke-width="1.75" stroke-opacity="1.00" stroke-linejoin="round" stroke-linecap="round"/>
<path d="M67.40,289.15 L73.01,289.15 L78.61,289.15 L84.22,289.15 L89.82,288.21 L95.43,286.45 L101.03,285.06 L106.64,284.24 L112.24,283.59 L117.85,282.94 L123.45,282.41 L129.06,281.71 L134.66,281.06 L140.27,280.41 L145.87,279.76 L151.48,279.35 L157.08,280.48 L162.69,282.20 L168.29,283.79 L173.90,285.23 L179.50,287.15 L185.11,288.50 L190.71,289.03 L196.32,289.15" fill="none" stroke="#1C3C8E" stroke-width="2.20" stroke-opacity="1.00" stroke-linejoin="round" stroke-linecap="round"/>
<path d="M67.40,289.15 L73.01,289.15 L78.61,289.15 L84.22,289.15 L89.82,288.57 L95.43,280.22 L101.03,273.02 L106.64,266.68 L112.24,261.21 L117.85,254.88 L123.45,247.10 L129.06,242.49 L134.66,244.22 L140.27,245.08 L145.87,246.24 L151.48,247.10 L157.08,254.30 L162.69,261.50 L168.29,268.70 L173.90,275.90 L179.50,282.24 L185.11,287.42 L190.71,288.86 L196.32,289.15" fill="none" stroke="#3562B2" stroke-width="1.75" stroke-opacity="1.00" stroke-linejoin="round" stroke-linecap="round"/>
<path d="M67.40,289.15 L73.01,289.15 L78.61,289.15 L84.22,289.15 L89.82,288.57 L95.43,280.22 L101.03,273.02 L106.64,266.68 L112.24,261.21 L117.85,254.88 L123.45,247.10 L129.06,241.92 L134.66,236.16 L140.27,231.26 L145.87,224.64 L151.48,220.03 L157.08,223.48 L162.69,236.16 L168.29,249.69 L173.90,263.52 L179.50,276.48 L185.11,285.98 L190.71,288.86 L196.32,289.15" fill="none" stroke="#1C3C8E" stroke-width="1.75" stroke-opacity="1.00" stroke-linejoin="round" stroke-linecap="round"/>
<path d="M212.80,285.12 L218.41,287.42 L224.01,288.86 L229.62,289.15 L235.22,287.42 L240.83,283.10 L246.43,275.90 L252.04,267.26 L257.64,256.32 L263.25,244.22 L268.85,232.70 L274.46,221.18 L280.06,206.78 L285.67,192.96 L291.27,192.96 L296.88,198.14 L302.48,208.22 L308.09,222.62 L313.69,234.14 L319.30,247.10 L324.90,258.62 L330.50,268.70 L336.11,275.90 L341.72,280.22" fill="none" stroke="#F1B468" stroke-width="1.75" stroke-opacity="1.00" stroke-linejoin="round" stroke-linecap="round"/>
<path d="M212.80,288.57 L218.41,289.15 L224.01,289.44 L229.62,289.44 L235.22,288.57 L240.83,286.84 L246.43,283.96 L252.04,280.22 L257.64,274.46 L263.25,269.56 L268.85,264.38 L274.46,260.06 L280.06,255.74 L285.67,251.42 L291.27,248.54 L296.88,246.81 L302.48,247.68 L308.09,249.98 L313.69,254.30 L319.30,262.94 L324.90,270.72 L330.50,277.34 L336.11,281.66 L341.72,283.96" fill="none" stroke="#F4C484" stroke-width="1.75" stroke-opacity="1.00" stroke-linejoin="round" stroke-linecap="round"/>
<path d="M212.80,284.83 L218.41,287.42 L224.01,288.86 L229.62,289.15 L235.22,288.57 L240.83,287.42 L246.43,286.27 L252.04,285.40 L257.64,284.83 L263.25,284.54 L268.85,284.25 L274.46,284.25 L280.06,284.25 L285.67,284.25 L291.27,284.25 L296.88,284.25 L302.48,284.25 L308.09,284.54 L313.69,284.83 L319.30,285.40 L324.90,286.27 L330.50,287.13 L336.11,288.00 L341.72,288.57" fill="none" stroke="#F4C484" stroke-width="1.75" stroke-opacity="1.00" stroke-linejoin="round" stroke-linecap="round"/>
<path d="M212.80,288.57 L218.41,289.15 L224.01,289.44 L229.62,289.44 L235.22,288.57 L240.83,285.98 L246.43,282.24 L252.04,276.48 L257.64,267.26 L263.25,260.06 L268.85,252.86 L274.46,245.66 L280.06,239.04 L285.67,234.14 L291.27,235.58 L296.88,241.34 L302.48,244.22 L308.09,247.10 L313.69,252.86 L319.30,260.06 L324.90,268.70 L330.50,275.90 L336.11,281.66 L341.72,285.12" fill="none" stroke="#EDA84E" stroke-width="1.75" stroke-opacity="1.00" stroke-linejoin="round" stroke-linecap="round"/>
<path d="M212.80,288.86 L218.41,289.44 L224.01,289.72 L229.62,289.44 L235.22,287.42 L240.83,283.10 L246.43,275.90 L252.04,267.84 L257.64,257.18 L263.25,245.66 L268.85,235.58 L274.46,225.50 L280.06,215.42 L285.67,206.78 L291.27,209.08 L296.88,213.40 L302.48,221.18 L308.09,228.38 L313.69,238.46 L319.30,252.86 L324.90,265.82 L330.50,275.90 L336.11,282.24 L341.72,284.54" fill="none" stroke="#E38C20" stroke-width="1.75" stroke-opacity="1.00" stroke-linejoin="round" stroke-linecap="round"/>
<path d="M212.80,288.86 L218.41,289.44 L224.01,289.72 L229.62,289.44 L235.22,288.00 L240.83,283.96 L246.43,277.34 L252.04,269.56 L257.64,259.20 L263.25,247.68 L268.85,237.60 L274.46,228.38 L280.06,219.74 L285.67,213.98 L291.27,213.98 L296.88,220.03 L302.48,225.50 L308.09,232.70 L313.69,239.90 L319.30,254.30 L324.90,267.26 L330.50,277.34 L336.11,283.10 L341.72,285.98" fill="none" stroke="#E38C20" stroke-width="1.75" stroke-opacity="1.00" stroke-linejoin="round" stroke-linecap="round"/>
<path d="M212.80,288.86 L218.41,289.44 L224.01,289.72 L229.62,289.44 L235.22,287.71 L240.83,283.68 L246.43,276.48 L252.04,268.70 L257.64,258.04 L263.25,246.52 L268.85,236.73 L274.46,226.94 L280.06,216.86 L285.67,209.08 L291.27,210.24 L296.88,218.30 L302.48,225.50 L308.09,233.28 L313.69,241.92 L319.30,253.44 L324.90,264.96 L330.50,276.48 L336.11,283.10 L341.72,286.84" fill="none" stroke="#EDA84E" stroke-width="1.75" stroke-opacity="1.00" stroke-linejoin="round" stroke-linecap="round"/>
<path d="M212.80,289.15 L218.41,289.15 L224.01,289.15 L229.62,289.15 L235.22,286.84 L240.83,281.66 L246.43,278.78 L252.04,275.90 L257.64,274.46 L263.25,273.02 L268.85,271.29 L274.46,268.99 L280.06,266.68 L285.67,264.38 L291.27,262.08 L296.88,260.64 L302.48,264.96 L308.09,271.87 L313.69,276.48 L319.30,276.48 L324.90,282.81 L330.50,284.83 L336.11,285.98 L341.72,287.42 L341.72,288.28 L336.11,287.71 L330.50,286.56 L324.90,285.40 L319.30,282.81 L313.69,281.66 L308.09,279.64 L302.48,276.76 L296.88,274.17 L291.27,275.04 L285.67,276.19 L280.06,277.92 L274.46,279.64 L268.85,281.08 L263.25,282.52 L257.64,283.68 L252.04,284.54 L246.43,285.40 L240.83,287.13 L235.22,288.86 L229.62,289.44 L224.01,289.44 L218.41,289.44 L212.80,289.44Z" fill="#8EADE0" fill-opacity="0.75" stroke="none"/>
<path d="M212.80,289.15 L218.41,289.15 L224.01,289.15 L229.62,289.15 L235.22,288.86 L240.83,288.57 L246.43,288.28 L252.04,288.00 L257.64,288.00 L263.25,288.00 L268.85,288.00 L274.46,288.00 L280.06,288.00 L285.67,288.00 L291.27,288.00 L296.88,288.00 L302.48,288.00 L308.09,288.00 L313.69,288.00 L319.30,288.00 L324.90,288.28 L330.50,288.57 L336.11,288.86 L341.72,288.86" fill="none" stroke="#A9C1E6" stroke-width="1.75" stroke-opacity="1.00" stroke-linejoin="round" stroke-linecap="round"/>
<path d="M212.80,289.15 L218.41,289.15 L224.01,289.15 L229.62,289.15 L235.22,287.42 L240.83,282.24 L246.43,279.93 L252.04,277.05 L257.64,275.61 L263.25,274.17 L268.85,272.44 L274.46,270.43 L280.06,268.70 L285.67,266.97 L291.27,264.38 L296.88,262.94 L302.48,267.26 L308.09,273.60 L313.69,277.63 L319.30,277.63 L324.90,283.39 L330.50,285.12 L336.11,286.27 L341.72,287.42" fill="none" stroke="#6F95D2" stroke-width="1.75" stroke-opacity="1.00" stroke-linejoin="round" stroke-linecap="round"/>
<path d="M212.80,289.15 L218.41,289.15 L224.01,289.15 L229.62,289.15 L235.22,288.57 L240.83,286.84 L246.43,285.12 L252.04,284.25 L257.64,283.39 L263.25,282.24 L268.85,280.80 L274.46,279.36 L280.06,277.63 L285.67,275.90 L291.27,274.75 L296.88,273.88 L302.48,276.48 L308.09,279.36 L313.69,281.37 L319.30,282.52 L324.90,285.12 L330.50,286.27 L336.11,287.42 L341.72,288.00" fill="none" stroke="#4A76C0" stroke-width="1.75" stroke-opacity="1.00" stroke-linejoin="round" stroke-linecap="round"/>
<path d="M212.80,289.15 L218.41,289.15 L224.01,289.15 L229.62,289.15 L235.22,288.23 L240.83,285.46 L246.43,283.56 L252.04,282.09 L257.64,281.06 L263.25,279.82 L268.85,278.29 L274.46,276.68 L280.06,274.95 L285.67,273.22 L291.27,271.64 L296.88,270.60 L302.48,273.71 L308.09,277.63 L313.69,280.25 L319.30,281.06 L324.90,284.60 L330.50,285.92 L336.11,287.07 L341.72,287.82" fill="none" stroke="#3562B2" stroke-width="1.75" stroke-opacity="1.00" stroke-linejoin="round" stroke-linecap="round"/>
<path d="M212.80,289.15 L218.41,289.15 L224.01,289.15 L229.62,289.15 L235.22,287.65 L240.83,283.16 L246.43,280.97 L252.04,278.49 L257.64,277.17 L263.25,275.78 L268.85,274.11 L274.46,272.21 L280.06,270.49 L285.67,268.76 L291.27,266.45 L296.88,265.13 L302.48,269.10 L308.09,274.75 L313.69,278.38 L319.30,278.61 L324.90,283.73 L330.50,285.35 L336.11,286.50 L341.72,287.54" fill="none" stroke="#3562B2" stroke-width="1.75" stroke-opacity="1.00" stroke-linejoin="round" stroke-linecap="round"/>
<path d="M212.80,289.15 L218.41,289.15 L224.01,289.15 L229.62,289.15 L235.22,288.00 L240.83,284.54 L246.43,282.52 L252.04,280.65 L257.64,279.50 L263.25,278.20 L268.85,276.62 L274.46,274.89 L280.06,273.16 L285.67,271.44 L291.27,269.56 L296.88,268.41 L302.48,271.87 L308.09,276.48 L313.69,279.50 L319.30,280.08 L324.90,284.25 L330.50,285.69 L336.11,286.84 L341.72,287.71" fill="none" stroke="#1C3C8E" stroke-width="2.20" stroke-opacity="1.00" stroke-linejoin="round" stroke-linecap="round"/>
<path d="M212.80,289.15 L218.41,289.15 L224.01,289.15 L229.62,289.15 L235.22,288.00 L240.83,283.10 L246.43,267.26 L252.04,257.18 L257.64,247.10 L263.25,235.58 L268.85,225.50 L274.46,218.30 L280.06,214.27 L285.67,216.00 L291.27,218.59 L296.88,222.04 L302.48,228.38 L308.09,235.58 L313.69,247.10 L319.30,262.94 L324.90,274.46 L330.50,283.10 L336.11,287.42 L341.72,288.86" fill="none" stroke="#3562B2" stroke-width="1.75" stroke-opacity="1.00" stroke-linejoin="round" stroke-linecap="round"/>
<path d="M212.80,289.15 L218.41,289.15 L224.01,289.15 L229.62,289.15 L235.22,287.42 L240.83,281.66 L246.43,265.82 L252.04,252.86 L257.64,242.78 L263.25,231.26 L268.85,222.62 L274.46,216.00 L280.06,208.80 L285.67,196.70 L291.27,185.18 L296.88,177.98 L302.48,185.18 L308.09,203.90 L313.69,227.52 L319.30,247.68 L324.90,265.82 L330.50,278.20 L336.11,283.10 L341.72,285.12" fill="none" stroke="#1C3C8E" stroke-width="1.75" stroke-opacity="1.00" stroke-linejoin="round" stroke-linecap="round"/>
<path d="M60.8,172.3 V296.3 H202.9 M206.6,296.3 H348.6" stroke="#000" stroke-width="1.6" fill="none"/>
<line x1="58.6" y1="290.30" x2="60.8" y2="290.30" stroke="#000" stroke-width="1.1"/>
<line x1="59.4" y1="275.90" x2="60.8" y2="275.90" stroke="#000" stroke-width="1.1"/>
<line x1="58.6" y1="261.50" x2="60.8" y2="261.50" stroke="#000" stroke-width="1.1"/>
<line x1="59.4" y1="247.10" x2="60.8" y2="247.10" stroke="#000" stroke-width="1.1"/>
<line x1="58.6" y1="232.70" x2="60.8" y2="232.70" stroke="#000" stroke-width="1.1"/>
<line x1="59.4" y1="218.30" x2="60.8" y2="218.30" stroke="#000" stroke-width="1.1"/>
<line x1="58.6" y1="203.90" x2="60.8" y2="203.90" stroke="#000" stroke-width="1.1"/>
<line x1="59.4" y1="189.50" x2="60.8" y2="189.50" stroke="#000" stroke-width="1.1"/>
<line x1="58.6" y1="175.10" x2="60.8" y2="175.10" stroke="#000" stroke-width="1.1"/>
<text x="56.5" y="294.20" font-size="11" fill="#606060" text-anchor="end" stroke="#606060" stroke-width="0.15">0</text>
<text x="56.5" y="265.40" font-size="11" fill="#606060" text-anchor="end" stroke="#606060" stroke-width="0.15">100</text>
<text x="56.5" y="236.60" font-size="11" fill="#606060" text-anchor="end" stroke="#606060" stroke-width="0.15">200</text>
<text x="56.5" y="207.80" font-size="11" fill="#606060" text-anchor="end" stroke="#606060" stroke-width="0.15">300</text>
<text x="56.5" y="179.00" font-size="11" fill="#606060" text-anchor="end" stroke="#606060" stroke-width="0.15">400</text>
<line x1="67.40" y1="296.3" x2="67.40" y2="298.4" stroke="#000" stroke-width="1.1"/>
<line x1="78.61" y1="296.3" x2="78.61" y2="298.4" stroke="#000" stroke-width="1.1"/>
<line x1="89.82" y1="296.3" x2="89.82" y2="298.4" stroke="#000" stroke-width="1.1"/>
<line x1="101.03" y1="296.3" x2="101.03" y2="298.4" stroke="#000" stroke-width="1.1"/>
<line x1="112.24" y1="296.3" x2="112.24" y2="298.4" stroke="#000" stroke-width="1.1"/>
<line x1="123.45" y1="296.3" x2="123.45" y2="298.4" stroke="#000" stroke-width="1.1"/>
<line x1="134.66" y1="296.3" x2="134.66" y2="298.4" stroke="#000" stroke-width="1.1"/>
<line x1="145.87" y1="296.3" x2="145.87" y2="298.4" stroke="#000" stroke-width="1.1"/>
<line x1="157.08" y1="296.3" x2="157.08" y2="298.4" stroke="#000" stroke-width="1.1"/>
<line x1="168.29" y1="296.3" x2="168.29" y2="298.4" stroke="#000" stroke-width="1.1"/>
<line x1="179.50" y1="296.3" x2="179.50" y2="298.4" stroke="#000" stroke-width="1.1"/>
<line x1="190.71" y1="296.3" x2="190.71" y2="298.4" stroke="#000" stroke-width="1.1"/>
<line x1="201.92" y1="296.3" x2="201.92" y2="298.4" stroke="#000" stroke-width="1.1"/>
<text x="78.61" y="308.6" font-size="11" fill="#606060" text-anchor="middle" stroke="#606060" stroke-width="0.15">2</text>
<text x="101.03" y="308.6" font-size="11" fill="#606060" text-anchor="middle" stroke="#606060" stroke-width="0.15">6</text>
<text x="123.45" y="308.6" font-size="11" fill="#606060" text-anchor="middle" stroke="#606060" stroke-width="0.15">10</text>
<text x="145.87" y="308.6" font-size="11" fill="#606060" text-anchor="middle" stroke="#606060" stroke-width="0.15">14</text>
<text x="168.29" y="308.6" font-size="11" fill="#606060" text-anchor="middle" stroke="#606060" stroke-width="0.15">18</text>
<text x="190.71" y="308.6" font-size="11" fill="#606060" text-anchor="middle" stroke="#606060" stroke-width="0.15">22</text>
<line x1="212.80" y1="296.3" x2="212.80" y2="298.4" stroke="#000" stroke-width="1.1"/>
<line x1="224.01" y1="296.3" x2="224.01" y2="298.4" stroke="#000" stroke-width="1.1"/>
<line x1="235.22" y1="296.3" x2="235.22" y2="298.4" stroke="#000" stroke-width="1.1"/>
<line x1="246.43" y1="296.3" x2="246.43" y2="298.4" stroke="#000" stroke-width="1.1"/>
<line x1="257.64" y1="296.3" x2="257.64" y2="298.4" stroke="#000" stroke-width="1.1"/>
<line x1="268.85" y1="296.3" x2="268.85" y2="298.4" stroke="#000" stroke-width="1.1"/>
<line x1="280.06" y1="296.3" x2="280.06" y2="298.4" stroke="#000" stroke-width="1.1"/>
<line x1="291.27" y1="296.3" x2="291.27" y2="298.4" stroke="#000" stroke-width="1.1"/>
<line x1="302.48" y1="296.3" x2="302.48" y2="298.4" stroke="#000" stroke-width="1.1"/>
<line x1="313.69" y1="296.3" x2="313.69" y2="298.4" stroke="#000" stroke-width="1.1"/>
<line x1="324.90" y1="296.3" x2="324.90" y2="298.4" stroke="#000" stroke-width="1.1"/>
<line x1="336.11" y1="296.3" x2="336.11" y2="298.4" stroke="#000" stroke-width="1.1"/>
<line x1="347.32" y1="296.3" x2="347.32" y2="298.4" stroke="#000" stroke-width="1.1"/>
<text x="224.01" y="308.6" font-size="11" fill="#606060" text-anchor="middle" stroke="#606060" stroke-width="0.15">2</text>
<text x="246.43" y="308.6" font-size="11" fill="#606060" text-anchor="middle" stroke="#606060" stroke-width="0.15">6</text>
<text x="268.85" y="308.6" font-size="11" fill="#606060" text-anchor="middle" stroke="#606060" stroke-width="0.15">10</text>
<text x="291.27" y="308.6" font-size="11" fill="#606060" text-anchor="middle" stroke="#606060" stroke-width="0.15">14</text>
<text x="313.69" y="308.6" font-size="11" fill="#606060" text-anchor="middle" stroke="#606060" stroke-width="0.15">18</text>
<text x="336.11" y="308.6" font-size="11" fill="#606060" text-anchor="middle" stroke="#606060" stroke-width="0.15">22</text>
<text x="138.9" y="169.7" font-size="12" fill="#222" text-anchor="middle" stroke="#222" stroke-width="0.15">Red Phase</text>
<text x="283.1" y="169.7" font-size="12.2" fill="#222" text-anchor="middle" stroke="#222" stroke-width="0.15">Green Phase</text>
<rect x="65.8" y="182.3" width="3" height="2.6" fill="#E8962A"/>
<rect x="65.8" y="194.6" width="3" height="2.6" fill="#1D3F92"/>
<text x="70.3" y="187.4" font-size="13.4" fill="#222" stroke="#222" stroke-width="0.15">internal</text>
<text x="70.3" y="198.8" font-size="13.4" fill="#222" stroke="#222" stroke-width="0.15">connector</text>
<text transform="translate(19.2,236.7) rotate(-90)" font-size="13.3" fill="#222" text-anchor="middle" stroke="#222" stroke-width="0.15">predicted weekday</text>
<text transform="translate(34.6,234) rotate(-90)" font-size="14.3" fill="#222" text-anchor="middle" stroke="#222" stroke-width="0.15">traffic</text>
<text x="217.6" y="324.4" font-size="13.6" fill="#222" text-anchor="middle" stroke="#222" stroke-width="0.15">Hour of day</text>
<text x="1" y="169.8" font-size="12" fill="#2a2a2a" stroke="none">(b)</text>
<path d="M60.5,327.8 V483.8 H346.3" stroke="#000" stroke-width="1.7" fill="none"/>
<line x1="58.3" y1="483.30" x2="60.5" y2="483.30" stroke="#000" stroke-width="1.1"/>
<line x1="59.1" y1="461.05" x2="60.5" y2="461.05" stroke="#000" stroke-width="1.1"/>
<line x1="58.3" y1="438.80" x2="60.5" y2="438.80" stroke="#000" stroke-width="1.1"/>
<line x1="59.1" y1="416.55" x2="60.5" y2="416.55" stroke="#000" stroke-width="1.1"/>
<line x1="58.3" y1="394.30" x2="60.5" y2="394.30" stroke="#000" stroke-width="1.1"/>
<line x1="59.1" y1="372.05" x2="60.5" y2="372.05" stroke="#000" stroke-width="1.1"/>
<line x1="58.3" y1="349.80" x2="60.5" y2="349.80" stroke="#000" stroke-width="1.1"/>
<text x="55" y="488.10" font-size="11.5" fill="#606060" text-anchor="end" stroke="#606060" stroke-width="0.15">0</text>
<text x="55" y="443.60" font-size="11.5" fill="#606060" text-anchor="end" stroke="#606060" stroke-width="0.15">10</text>
<text x="55" y="399.10" font-size="11.5" fill="#606060" text-anchor="end" stroke="#606060" stroke-width="0.15">20</text>
<text x="55" y="354.60" font-size="11.5" fill="#606060" text-anchor="end" stroke="#606060" stroke-width="0.15">30</text>
<line x1="112.0" y1="483.8" x2="112.0" y2="486" stroke="#000" stroke-width="1.1"/>
<text x="112.0" y="499.6" font-size="12" fill="#3a3a3a" text-anchor="middle" stroke="#3a3a3a" stroke-width="0.15">Red</text>
<line x1="199.4" y1="483.8" x2="199.4" y2="486" stroke="#000" stroke-width="1.1"/>
<text x="199.4" y="499.6" font-size="12" fill="#3a3a3a" text-anchor="middle" stroke="#3a3a3a" stroke-width="0.15">Yellow</text>
<line x1="286.1" y1="483.8" x2="286.1" y2="486" stroke="#000" stroke-width="1.1"/>
<text x="286.1" y="499.6" font-size="12" fill="#3a3a3a" text-anchor="middle" stroke="#3a3a3a" stroke-width="0.15">Green</text>
<line x1="101.7" y1="386.9" x2="101.7" y2="418.6" stroke="#111" stroke-width="1.5"/>
<circle cx="101.7" cy="402.6" r="4.0" fill="#A91E25"/>
<path d="M123.3,396.2 L125.7,398.6 L123.3,401.0 L120.9,398.6Z" fill="#A91E25"/>
<line x1="188.4" y1="363.6" x2="188.4" y2="398.6" stroke="#111" stroke-width="1.5"/>
<circle cx="188.4" cy="381.0" r="5.0" fill="#EBA520"/>
<line x1="210.0" y1="397.9" x2="210.0" y2="419.7" stroke="#111" stroke-width="1.5"/>
<path d="M210.0,404.5 L214.1,408.6 L210.0,412.7 L205.9,408.6Z" fill="#EBA520"/>
<line x1="275.0" y1="344.0" x2="275.0" y2="375.0" stroke="#111" stroke-width="1.5"/>
<circle cx="275.0" cy="359.6" r="9.0" fill="#B9DC9B"/>
<line x1="297.0" y1="373.0" x2="297.0" y2="408.4" stroke="#111" stroke-width="1.5"/>
<path d="M297.0,383.0 L305.0,391.0 L297.0,399.0 L289.0,391.0Z" fill="#B9DC9B"/>
<circle cx="73.3" cy="457.6" r="3.3" fill="#000"/>
<path d="M73.3,465.5 L77.5,469.7 L73.3,473.9 L69.1,469.7Z" fill="#000"/>
<text x="85.6" y="460.6" font-size="13" fill="#1a1a1a" stroke="none">weekday</text>
<text x="85.6" y="473" font-size="13" fill="#1a1a1a" stroke="none">weekend</text>
<text transform="translate(18.6,415.7) rotate(-90)" font-size="13.4" fill="#222" text-anchor="middle" stroke="#222" stroke-width="0.15">average total daily traffic</text>
<text transform="translate(35.2,416.7) rotate(-90)" font-size="13.8" fill="#222" text-anchor="middle" stroke="#222" stroke-width="0.15">(thousands)</text>
<text x="1.2" y="332" font-size="11.5" fill="#2a2a2a" stroke="none">(c)</text>
</svg>
</body></html>
